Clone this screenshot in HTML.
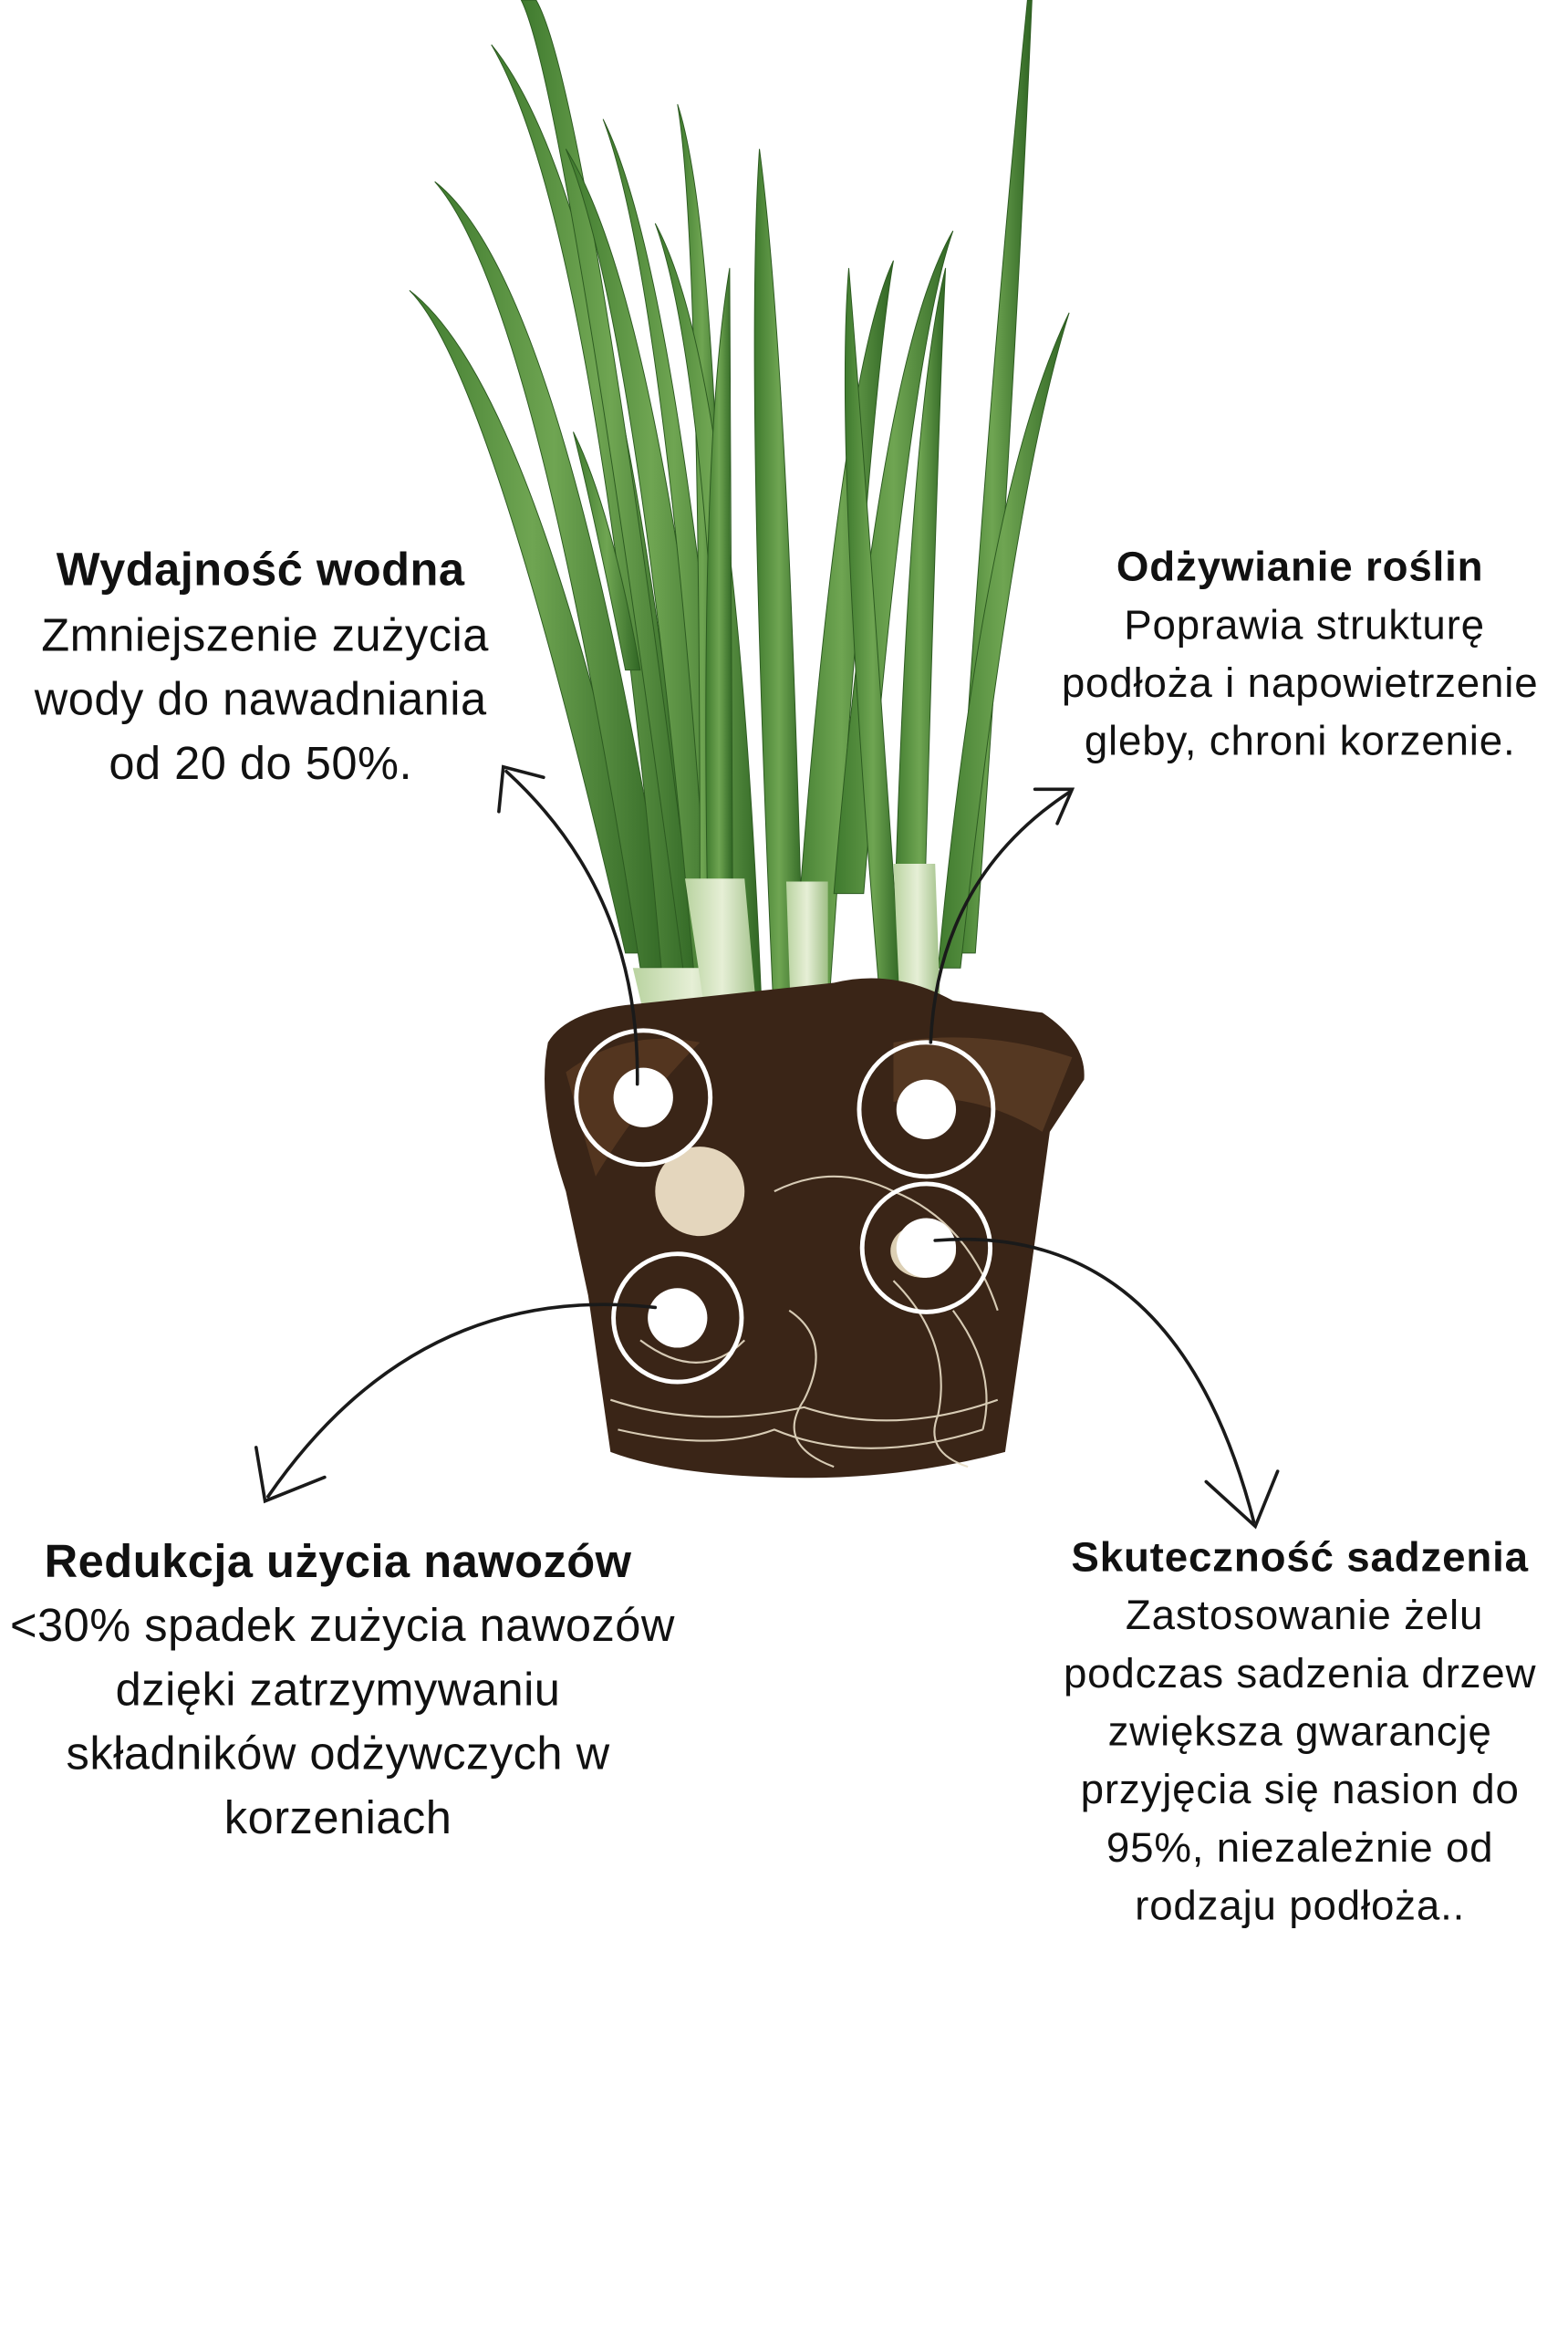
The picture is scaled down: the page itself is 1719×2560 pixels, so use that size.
<!DOCTYPE html>
<html><head><meta charset="utf-8"><style>
html,body{margin:0;padding:0;background:#fff}
svg{display:block}
text{font-family:"Liberation Sans","DejaVu Sans",sans-serif;fill:#111}
.t{font-weight:bold}
.l{font-size:31px;letter-spacing:0.3px}
.r{font-size:28px;letter-spacing:0.5px}
</style></head><body>
<svg width="1719" height="2560" viewBox="0 0 1053 1568" preserveAspectRatio="none" xmlns="http://www.w3.org/2000/svg">
<rect width="1053" height="1568" fill="#fff"/>
<defs>
<linearGradient id="lf" x1="0" y1="0" x2="1" y2="0">
<stop offset="0" stop-color="#3f7a2e"/><stop offset="0.5" stop-color="#6fa552"/><stop offset="1" stop-color="#2f6523"/></linearGradient>
<linearGradient id="st" x1="0" y1="0" x2="1" y2="0">
<stop offset="0" stop-color="#b9d3a0"/><stop offset="0.5" stop-color="#e6efd6"/><stop offset="1" stop-color="#9fbf86"/></linearGradient>
</defs>
<g fill="url(#lf)" stroke="#2c5a20" stroke-width="0.6">
<path d="M275,195 Q330,250 420,640 L440,640 Q360,260 275,195Z"/>
<path d="M292,122 Q360,200 430,650 L452,650 Q380,190 292,122Z"/>
<path d="M330,30 Q400,150 445,660 L470,660 Q420,140 330,30Z"/>
<path d="M350,0 Q380,60 460,660 L470,660 Q395,60 360,0Z"/>
<path d="M380,100 Q430,220 470,700 L495,700 Q450,210 380,100Z"/>
<path d="M405,80 Q450,200 480,690 L500,690 Q460,190 405,80Z"/>
<path d="M455,70 Q470,160 470,600 L488,600 Q485,160 455,70Z"/>
<path d="M440,150 Q480,260 490,690 L512,690 Q495,250 440,150Z"/>
<path d="M510,100 Q500,250 520,690 L540,690 Q530,250 510,100Z"/>
<path d="M490,180 Q470,300 475,600 L492,600 Q490,300 490,180Z"/>
<path d="M600,175 Q560,260 530,700 L555,700 Q585,260 600,175Z"/>
<path d="M640,155 Q590,240 560,600 L580,600 Q610,240 640,155Z"/>
<path d="M635,180 Q610,280 600,640 L620,640 Q630,280 635,180Z"/>
<path d="M690,0 Q660,300 640,640 L655,640 Q680,300 693,0Z"/>
<path d="M718,210 Q660,330 630,650 L645,650 Q680,330 718,210Z"/>
<path d="M570,180 Q560,300 590,660 L605,660 Q580,300 570,180Z"/>
<path d="M385,290 Q400,350 420,450 L430,450 Q410,340 385,290Z"/>
</g>
<g fill="url(#st)">
<path d="M425,650 L470,650 L505,830 L470,840Z"/>
<path d="M460,590 L500,590 L510,700 L478,710Z"/>
<path d="M528,592 L556,592 L556,710 L532,710Z"/>
<path d="M600,580 L628,580 L632,690 L605,690Z"/>
<path d="M430,760 L470,760 L470,840 L445,840Z"/>
</g>
<path d="M368,700 Q380,680 420,675 L560,660 Q600,650 640,672 L700,680 Q730,700 728,725 L705,760 L690,870 L675,975 Q600,995 520,992 Q450,990 410,975 L395,870 L380,800 Q360,740 368,700Z" fill="#3a2517"/>
<path d="M380,720 Q420,690 470,700 Q430,740 400,790Z" fill="#5a3a22" opacity="0.8"/>
<path d="M600,700 Q660,690 720,710 L700,760 Q650,730 600,740Z" fill="#5c3d25" opacity="0.8"/>
<g fill="none" stroke="#e8ddc6" stroke-width="1.3" opacity="0.9">
<path d="M410,940 Q470,960 540,945 Q600,965 670,940"/>
<path d="M415,960 Q480,975 520,960 Q580,985 660,960"/>
<path d="M530,880 Q560,900 540,940 Q520,970 560,985"/>
<path d="M600,860 Q640,900 630,950 Q620,975 650,985"/>
<path d="M520,800 Q560,780 600,800 Q650,820 670,880"/>
<path d="M430,900 Q470,930 500,900"/>
<path d="M640,880 Q670,920 660,960"/>
</g>
<ellipse cx="470" cy="800" rx="30" ry="30" fill="#e4d6bd"/>
<ellipse cx="620" cy="840" rx="22" ry="18" fill="#dccfb4"/>
<g stroke="#fff" stroke-width="3" fill="none">
<circle cx="432" cy="737" r="45"/><circle cx="622" cy="745" r="45"/>
<circle cx="455" cy="885" r="43"/><circle cx="622" cy="838" r="43"/>
</g>
<g fill="#fff">
<circle cx="432" cy="737" r="20"/><circle cx="622" cy="745" r="20"/>
<circle cx="455" cy="885" r="20"/><circle cx="622" cy="838" r="20"/>
</g>
<g fill="none" stroke="#1a1a1a" stroke-width="2.2" stroke-linecap="round">
<path d="M428,728 Q430,600 340,518"/>
<path d="M335,545 L338,515 L365,522"/>
<path d="M625,700 Q630,590 718,532"/>
<path d="M695,530 L720,530 L710,553"/>
<path d="M440,878 Q280,860 180,1005"/>
<path d="M172,972 L178,1008 L218,992"/>
<path d="M628,833 Q790,820 842,1022"/>
<path d="M810,995 L843,1025 L858,988"/>
</g>
<g text-anchor="middle">
<text class="t l" x="175" y="393">Wydajność wodna</text>
<text class="l" x="178" y="437">Zmniejszenie zużycia</text>
<text class="l" x="175" y="480">wody do nawadniania</text>
<text class="l" x="175" y="523">od 20 do 50%.</text>

<text class="t r" x="873" y="390">Odżywianie roślin</text>
<text class="r" x="876" y="429">Poprawia strukturę</text>
<text class="r" x="873" y="468">podłoża i napowietrzenie</text>
<text class="r" x="873" y="507">gleby, chroni korzenie.</text>

<text class="t l" x="227" y="1059">Redukcja użycia nawozów</text>
<text class="l" x="230" y="1102">&lt;30% spadek zużycia nawozów</text>
<text class="l" x="227" y="1145">dzięki zatrzymywaniu</text>
<text class="l" x="227" y="1188">składników odżywczych w</text>
<text class="l" x="227" y="1231">korzeniach</text>

<text class="t r" x="873" y="1055">Skuteczność sadzenia</text>
<text class="r" x="876" y="1094">Zastosowanie żelu</text>
<text class="r" x="873" y="1133">podczas sadzenia drzew</text>
<text class="r" x="873" y="1172">zwiększa gwarancję</text>
<text class="r" x="873" y="1211">przyjęcia się nasion do</text>
<text class="r" x="873" y="1250">95%, niezależnie od</text>
<text class="r" x="873" y="1289">rodzaju podłoża..</text>
</g>
</svg>
</body></html>
